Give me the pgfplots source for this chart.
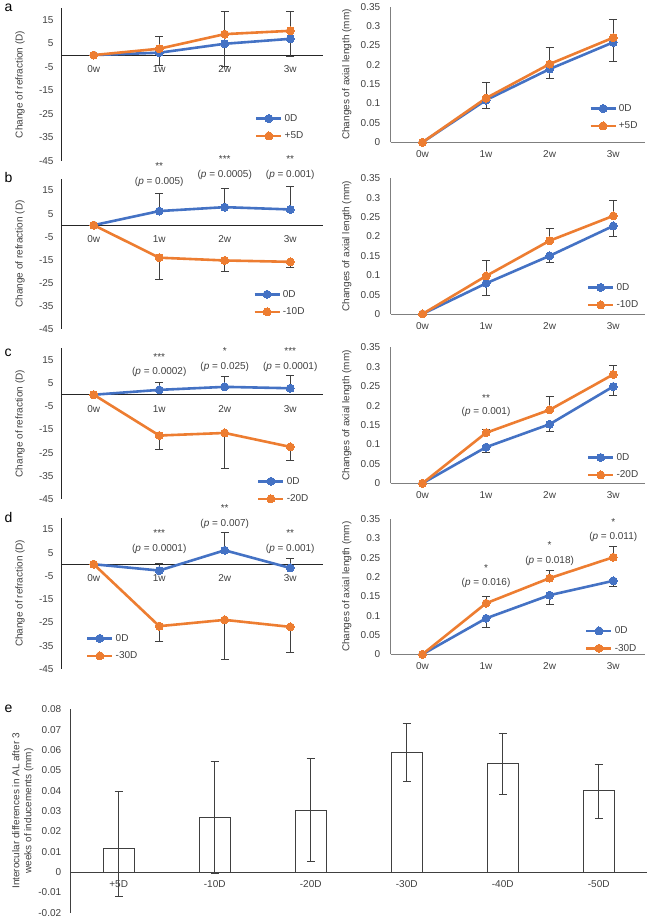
\documentclass[border=0pt]{standalone}
\usepackage{pgfplots}
\pgfplotsset{compat=1.18}
\usepackage{fontspec}
\setmainfont{Liberation Sans}
\definecolor{xlblue}{HTML}{4472C4}
\definecolor{xlorange}{HTML}{ED7D31}
\definecolor{txt}{HTML}{404040}
\definecolor{errc}{HTML}{404040}
\definecolor{axgray}{HTML}{7F7F7F}
\newcommand{\fs}{\fontsize{10}{12}\selectfont}
\pgfplotsset{
  base/.style={scale only axis, clip=false, major tick length=0pt,
    hide obscured x ticks=false, hide obscured y ticks=false,
    scaled x ticks=false, scaled y ticks=false,
    tick label style={font=\fs, text=txt},
    label style={font=\fs, text=txt},
    legend style={draw=none, fill=none, font=\fs, text=txt, inner sep=0pt, row sep=5pt, cells={anchor=west}},
    legend image code/.code={\draw[mark repeat=2,mark phase=2,##1] plot coordinates {(0pt,0pt) (12.5pt,0pt) (25pt,0pt)};},
  },
  ser/.style={color=#1, line width=2.6pt, mark=*, mark size=4pt, mark options={solid, fill=#1, draw=#1, line width=0pt}},
  eb/.style={error bars/.cd, y dir=#1, y explicit, error bar style={line width=0.7pt, errc}, error mark options={rotate=90, mark size=4pt, line width=0.7pt, errc}},
  refr/.style={base, width=262pt, xmin=-0.5, xmax=3.5, ymin=-45, ymax=20,
    axis x line=middle, axis y line=left, axis line style={-, black!85, line width=0.8pt},
    xtick={0,1,2,3}, xticklabels={0w,1w,2w,3w},
    ytick={-45,-35,-25,-15,-5,5,15}, yticklabels={-45,-35,-25,-15,-5,5,15},
    ylabel={Change of refraction (D)},
    ylabel style={at={(axis description cs:-0.1565,0.5)}, anchor=center},
    xticklabel style={yshift=-7pt}, yticklabel style={xshift=-4pt}},
  al/.style={base, width=254.3pt, xmin=-0.5, xmax=3.5, ymin=0, ymax=0.35,
    axis x line=bottom, axis y line=left, axis line style={-, axgray, line width=0.8pt},
    xtick={0,1,2,3}, xticklabels={0w,1w,2w,3w},
    ytick={0,0.05,0.1,0.15,0.2,0.25,0.3,0.35}, yticklabels={0,0.05,0.1,0.15,0.2,0.25,0.3,0.35},
    ylabel={Changes of axial length (mm)},
    ylabel style={at={(axis description cs:-0.173,0.5)}, anchor=center},
    xticklabel style={yshift=-5pt}, yticklabel style={xshift=-7pt}},
}
\newcommand{\ann}[3]{\node[font=\fs, text=txt] at (axis cs:#1,#2) {#3};}
\begin{document}
\begin{tikzpicture}
\path[use as bounding box] (0pt,0pt) rectangle (650pt,919pt);
\node[font=\fontsize{14}{16}\selectfont, anchor=base west] at (1pt,907pt) {a};
\node[font=\fontsize{14}{16}\selectfont, anchor=base west] at (1pt,736pt) {b};
\node[font=\fontsize{14}{16}\selectfont, anchor=base west] at (1pt,562pt) {c};
\node[font=\fontsize{14}{16}\selectfont, anchor=base west] at (1pt,396pt) {d};
\node[font=\fontsize{14}{16}\selectfont, anchor=base west] at (1pt,206pt) {e};

% ---------- a left
\begin{axis}[refr, at={(61pt,758pt)}, anchor=south west, height=153pt,
  legend style={at={(0.74,0.32)}, anchor=north west}]
\addplot[ser=xlblue, eb=minus] coordinates {(0,0) (1,1.0) +- (0,5.4) (2,4.8) +- (0,9.5) (3,6.9) +- (0,7.3)};
\addplot[ser=xlorange, eb=plus] coordinates {(0,0) (1,2.7) +- (0,5.4) (2,8.9) +- (0,9.8) (3,10.3) +- (0,8.1)};
\legend{0D,+5D}
\end{axis}

% ---------- a right
\begin{axis}[al, at={(390.7pt,776.7pt)}, anchor=south west, height=135.6pt,
  legend style={at={(0.78,0.297)}, anchor=north west}]
\addplot[ser=xlblue, eb=minus] coordinates {(0,0) (1,0.109) +- (0,0.021) (2,0.189) +- (0,0.024) (3,0.258) +- (0,0.050)};
\addplot[ser=xlorange, eb=plus] coordinates {(0,0) (1,0.114) +- (0,0.042) (2,0.202) +- (0,0.043) (3,0.270) +- (0,0.047)};
\legend{0D,+5D}
\end{axis}

% ---------- b left
\begin{axis}[refr, at={(61pt,590pt)}, anchor=south west, height=150pt,
  legend style={at={(0.733,0.274)}, anchor=north west}]
\addplot[ser=xlblue, eb=plus] coordinates {(0,0) (1,6.1) +- (0,7.6) (2,7.8) +- (0,8.2) (3,6.8) +- (0,10.1)};
\addplot[ser=xlorange, eb=minus] coordinates {(0,0) (1,-14.1) +- (0,9.4) (2,-15.3) +- (0,4.6) (3,-15.9) +- (0,2.6)};
\legend{0D,-10D}
\ann{1}{25.5}{**}\ann{1}{18.6}{(\textit{p} = 0.005)}
\ann{2}{28.6}{***}\ann{2}{21.6}{(\textit{p} = 0.0005)}
\ann{3}{28.6}{**}\ann{3}{21.6}{(\textit{p} = 0.001)}
\end{axis}

% ---------- b right
\begin{axis}[al, at={(390.7pt,605pt)}, anchor=south west, height=135.7pt,
  legend style={at={(0.771,0.243)}, anchor=north west}]
\addplot[ser=xlblue, eb=minus] coordinates {(0,0) (1,0.079) +- (0,0.030) (2,0.150) +- (0,0.018) (3,0.227) +- (0,0.026)};
\addplot[ser=xlorange, eb=plus] coordinates {(0,0) (1,0.098) +- (0,0.041) (2,0.189) +- (0,0.032) (3,0.253) +- (0,0.041)};
\legend{0D,-10D}
\end{axis}

% ---------- c left
\begin{axis}[refr, at={(61pt,420pt)}, anchor=south west, height=150.6pt,
  legend style={at={(0.748,0.16)}, anchor=north west}]
\addplot[ser=xlblue, eb=plus] coordinates {(0,0) (1,2.1) +- (0,3.3) (2,3.4) +- (0,4.7) (3,2.8) +- (0,5.5)};
\addplot[ser=xlorange, eb=minus] coordinates {(0,0) (1,-17.6) +- (0,5.9) (2,-16.5) +- (0,15.4) (3,-22.5) +- (0,5.8)};
\legend{0D,-20D}
\ann{1}{16.4}{***}\ann{1}{9.7}{(\textit{p} = 0.0002)}
\ann{2}{18.9}{*}\ann{2}{12.1}{(\textit{p} = 0.025)}
\ann{3}{18.9}{***}\ann{3}{12.1}{(\textit{p} = 0.0001)}
\end{axis}

% ---------- c right
\begin{axis}[al, at={(390.7pt,435.7pt)}, anchor=south west, height=136pt,
  legend style={at={(0.771,0.237)}, anchor=north west}]
\addplot[ser=xlblue, eb=minus] coordinates {(0,0) (1,0.093) +- (0,0.014) (2,0.152) +- (0,0.019) (3,0.249) +- (0,0.022)};
\addplot[ser=xlorange, eb=plus] coordinates {(0,0) (1,0.130) +- (0,0.010) (2,0.189) +- (0,0.034) (3,0.280) +- (0,0.024)};
\legend{0D,-20D}
\ann{1}{0.220}{**}\ann{1}{0.184}{(\textit{p} = 0.001)}
\end{axis}

% ---------- d left
\begin{axis}[refr, at={(61pt,250pt)}, anchor=south west, height=151.3pt,
  legend style={at={(0.095,0.245)}, anchor=north west}]
\addplot[ser=xlblue, eb=plus] coordinates {(0,0) (1,-2.7) +- (0,3.1) (2,6.0) +- (0,7.9) (3,-1.6) +- (0,4.0)};
\addplot[ser=xlorange, eb=minus] coordinates {(0,0) (1,-26.6) +- (0,6.4) (2,-23.9) +- (0,17.0) (3,-26.9) +- (0,10.9)};
\legend{0D,-30D}
\ann{1}{13.4}{***}\ann{1}{6.7}{(\textit{p} = 0.0001)}
\ann{2}{24.2}{**}\ann{2}{17.3}{(\textit{p} = 0.007)}
\ann{3}{13.4}{**}\ann{3}{6.7}{(\textit{p} = 0.001)}
\end{axis}

% ---------- d right
\begin{axis}[al, at={(390.7pt,264.7pt)}, anchor=south west, height=135.3pt,
  legend style={at={(0.764,0.221)}, anchor=north west}]
\addplot[ser=xlblue, eb=minus] coordinates {(0,0) (1,0.093) +- (0,0.024) (2,0.153) +- (0,0.023) (3,0.190) +- (0,0.015)};
\addplot[ser=xlorange, eb=plus] coordinates {(0,0) (1,0.132) +- (0,0.017) (2,0.197) +- (0,0.021) (3,0.251) +- (0,0.027)};
\legend{0D,-30D}
\ann{1}{0.222}{*}\ann{1}{0.184}{(\textit{p} = 0.016)}
\ann{2}{0.283}{*}\ann{2}{0.241}{(\textit{p} = 0.018)}
\ann{3}{0.343}{*}\ann{3}{0.304}{(\textit{p} = 0.011)}
\end{axis}

% ---------- e
\begin{axis}[base, at={(70.7pt,6.3pt)}, anchor=south west, width=576pt, height=203.4pt,
  xmin=-0.5, xmax=5.5, ymin=-0.02, ymax=0.08,
  axis x line=middle, axis y line=left, axis line style={-, txt, line width=0.8pt},
  xtick={0,1,2,3,4,5}, xticklabels={+5D,-10D,-20D,-30D,-40D,-50D},
  ytick={-0.02,-0.01,0,0.01,0.02,0.03,0.04,0.05,0.06,0.07,0.08},
  yticklabels={-0.02,-0.01,0,0.01,0.02,0.03,0.04,0.05,0.06,0.07,0.08},
  ylabel={Interocular differences in AL after 3\\weeks of inducements (mm)},
  ylabel style={align=center, at={(axis description cs:-0.0833,0.5)}, anchor=center},
  xticklabel style={yshift=-5pt}, yticklabel style={xshift=-6pt},
  ybar, bar width=31pt]
\addplot[fill=white, draw=txt, line width=0.8pt, error bars/.cd, y dir=both, y explicit,
  error bar style={line width=0.7pt, errc}, error mark options={rotate=90, mark size=4pt, line width=0.7pt, errc}]
  coordinates {(0,0.0116) += (0,0.0283) -= (0,0.0236)
               (1,0.0268) += (0,0.0275) -= (0,0.0276)
               (2,0.0304) += (0,0.0256) -= (0,0.0254)
               (3,0.0587) += (0,0.0143) -= (0,0.0142)
               (4,0.0532) += (0,0.0152) -= (0,0.0152)
               (5,0.0399) += (0,0.0129) -= (0,0.0134)};
\end{axis}
\end{tikzpicture}
\end{document}
